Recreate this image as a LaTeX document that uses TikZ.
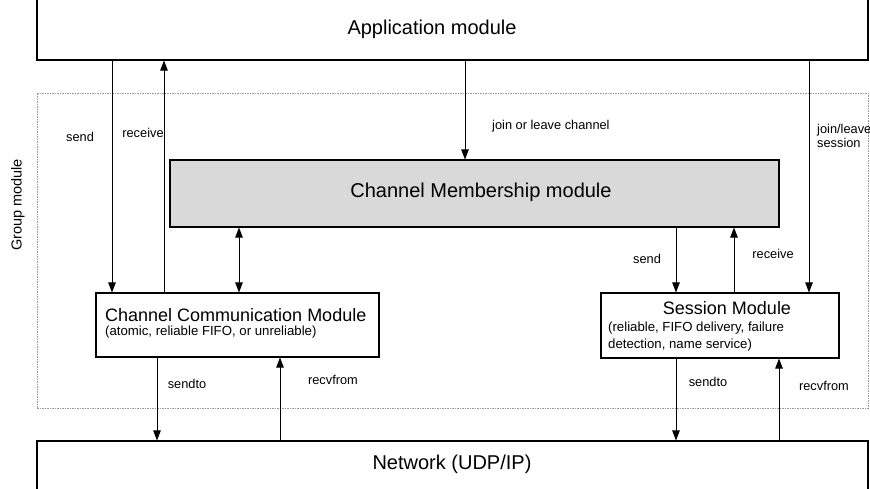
\documentclass[tikz,border=0pt]{standalone}
\usepackage{fontspec}
\setmainfont{Liberation Sans}
\usetikzlibrary{arrows.meta}

\begin{document}
\begin{tikzpicture}[x=1pt, y=-1pt, >={Stealth[length=10pt,width=7.5pt,inset=0pt]}, font=\fontsize{12.8}{14}\selectfont]
		\tikzset{box/.style={draw, line width=1.1pt, rectangle, inner sep=0pt},
			grpbox/.style={draw=gray!80, line width=0.9pt, dash pattern=on 1.5pt off 1pt, rectangle, inner sep=0pt},
			big/.style={font=\fontsize{20}{23}\selectfont, inner sep=0pt},
			mid/.style={font=\fontsize{18}{21}\selectfont, inner sep=0pt},
			note/.style={font=\fontsize{13.2}{17}\selectfont, inner sep=0pt, anchor=west, align=left},
			lbl/.style={inner sep=0pt},
			flow/.style={->, line width=0.8pt}}
		\useasboundingbox (0,0) rectangle (870,488);
		% boxes
		\node[grpbox, minimum width=831pt, minimum height=315pt] (grp) at (452.5,250.5) {};
		\node[box, minimum width=831pt, minimum height=100pt] (app) at (452.5,10) {};
		\node[box, fill=gray!30, minimum width=609pt, minimum height=67pt] (cm) at (474.5,193.5) {};
		\node[box, minimum width=283pt, minimum height=64pt] (ccm) at (237.5,325) {};
		\node[box, minimum width=238pt, minimum height=65pt] (ses) at (720,325.5) {};
		\node[box, minimum width=831pt, minimum height=99pt] (net) at (452.5,490.5) {};
		% box texts
		\node[big] (apptxt) at (432,29) {Application module};
		\node[big] (cmtxt) at (481,192) {Channel Membership module};
		\node[big] (nettxt) at (452,464) {Network (UDP/IP)};
		\node[mid, anchor=west] (ccmtxt) at (105,315) {Channel Communication Module};
		\node[note] (ccmnote) at (105,332) {(atomic, reliable FIFO, or unreliable)};
		\node[mid] (sestxt) at (727,308) {Session Module};
		\node[note] (sesnote) at (608,336.5) {(reliable, FIFO delivery, failure\\detection, name service)};
		\node[lbl, rotate=90, font=\fontsize{14.5}{16}\selectfont] (grptxt) at (18,205) {Group module};
		% application <-> group
		\draw[flow] (app.south -| 112,0) -- (ccm.north -| 112,0);
		\draw[flow] (ccm.north -| 164,0) -- (app.south -| 164,0);
		\draw[flow] (app.south -| 465,0) -- (cm.north -| 465,0);
		\draw[flow] (app.south -| 809,0) -- (ses.north -| 809,0);
		\node[lbl] (sendA) at (80,137) {send};
		\node[lbl] (recvA) at (143,133) {receive};
		\node[lbl, anchor=west] (joinch) at (492,126) {join or leave channel};
		\node[lbl, anchor=west, align=left] (joinses) at (817,136) {join/leave\\session};
		% membership <-> lower modules
		\draw[flow, <->] (cm.south -| 239,0) -- (ccm.north -| 239,0);
		\draw[flow] (cm.south -| 676,0) -- (ses.north -| 676,0);
		\draw[flow] (ses.north -| 734,0) -- (cm.south -| 734,0);
		\node[lbl] (sendB) at (647,259) {send};
		\node[lbl] (recvB) at (773,254) {receive};
		% modules <-> network
		\draw[flow] (ccm.south -| 157,0) -- (net.north -| 157,0);
		\draw[flow] (net.north -| 280,0) -- (ccm.south -| 280,0);
		\draw[flow] (ses.south -| 676,0) -- (net.north -| 676,0);
		\draw[flow] (net.north -| 779,0) -- (ses.south -| 779,0);
		\node[lbl] (sendtoA) at (187,384) {sendto};
		\node[lbl] (recvfromA) at (333,380) {recvfrom};
		\node[lbl] (sendtoB) at (708,382) {sendto};
		\node[lbl] (recvfromB) at (824,386) {recvfrom};
	\end{tikzpicture}
\end{document}
